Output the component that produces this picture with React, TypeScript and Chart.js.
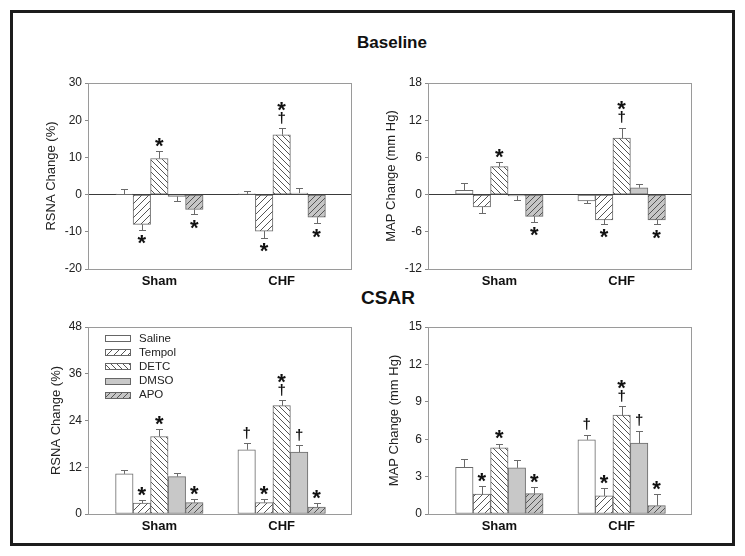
import React, { useEffect, useRef } from 'react';
import { Chart, registerables } from 'chart.js';

Chart.register(...registerables);

const FONT = '"Liberation Sans", Arial, Helvetica, sans-serif';

const groupLabels = ['Sham', 'CHF'];
const treatments = ['Saline', 'Tempol', 'DETC', 'DMSO', 'APO'];

// Baseline, RSNA change (%)
const baseRsnaSham = [0.1, -8.0, 9.7, -0.5, -4.0];
const baseRsnaShamSem = [1.5, 1.5, 2.0, 1.2, 1.3];
const baseRsnaChf = [0.2, -9.8, 16.1, 0.4, -6.1];
const baseRsnaChfSem = [0.7, 1.9, 1.8, 1.5, 1.6];
const baseRsnaShamSig = ['', '*', '*', '', '*'];
const baseRsnaChfSig = ['', '*', '*†', '', '*'];

// Baseline, MAP change (mm Hg)
const baseMapSham = [0.7, -2.0, 4.5, -0.2, -3.5];
const baseMapShamSem = [1.1, 0.9, 0.8, 0.7, 0.9];
const baseMapChf = [-1.0, -4.1, 9.1, 1.1, -4.1];
const baseMapChfSem = [0.4, 0.6, 1.7, 0.6, 0.7];
const baseMapShamSig = ['', '', '*', '', '*'];
const baseMapChfSig = ['', '*', '*†', '', '*'];

// CSAR, RSNA change (%)
const csarRsnaSham = [10.3, 2.8, 19.9, 9.6, 2.9];
const csarRsnaShamSem = [0.9, 0.8, 1.9, 0.8, 0.9];
const csarRsnaChf = [16.5, 2.9, 27.8, 15.9, 1.8];
const csarRsnaChfSem = [1.6, 1.0, 1.4, 1.7, 1.0];
const csarRsnaShamSig = ['', '*', '*', '', '*'];
const csarRsnaChfSig = ['†', '*', '*†', '†', '*'];

// CSAR, MAP change (mm Hg)
const csarMapSham = [3.75, 1.6, 5.3, 3.7, 1.63];
const csarMapShamSem = [0.65, 0.65, 0.35, 0.67, 0.54];
const csarMapChf = [5.95, 1.45, 7.93, 5.68, 0.67];
const csarMapChfSem = [0.4, 0.6, 0.7, 1.0, 0.93];
const csarMapShamSig = ['', '*', '*', '', '*'];
const csarMapChfSig = ['†', '*', '*†', '†', '*'];

const X_MIN = -0.575;
const X_MAX = 1.567;

type PanelCfg = {
  sham: number[]; shamSem: number[]; chf: number[]; chfSem: number[];
  shamSig: string[]; chfSig: string[];
  yMin: number; yMax: number; step: number; yTitle: string;
  zeroLine: boolean; legend: boolean;
  area: { left: number; top: number; right: number; bottom: number };
  titlePad: number;
};

const panels: PanelCfg[] = [
  {
    sham: baseRsnaSham, shamSem: baseRsnaShamSem, chf: baseRsnaChf, chfSem: baseRsnaChfSem,
    shamSig: baseRsnaShamSig, chfSig: baseRsnaChfSig,
    yMin: -20, yMax: 30, step: 10, yTitle: 'RSNA Change (%)', zeroLine: true, legend: false,
    area: { left: 89, top: 83, right: 351, bottom: 269 }, titlePad: 30,
  },
  {
    sham: baseMapSham, shamSem: baseMapShamSem, chf: baseMapChf, chfSem: baseMapChfSem,
    shamSig: baseMapShamSig, chfSig: baseMapChfSig,
    yMin: -12, yMax: 18, step: 6, yTitle: 'MAP Change (mm Hg)', zeroLine: true, legend: false,
    area: { left: 429, top: 83, right: 691, bottom: 269 }, titlePad: 30,
  },
  {
    sham: csarRsnaSham, shamSem: csarRsnaShamSem, chf: csarRsnaChf, chfSem: csarRsnaChfSem,
    shamSig: csarRsnaShamSig, chfSig: csarRsnaChfSig,
    yMin: 0, yMax: 48, step: 12, yTitle: 'RSNA Change (%)', zeroLine: false, legend: true,
    area: { left: 89, top: 327, right: 351, bottom: 514 }, titlePad: 35,
  },
  {
    sham: csarMapSham, shamSem: csarMapShamSem, chf: csarMapChf, chfSem: csarMapChfSem,
    shamSig: csarMapShamSig, chfSig: csarMapChfSig,
    yMin: 0, yMax: 15, step: 3, yTitle: 'MAP Change (mm Hg)', zeroLine: false, legend: false,
    area: { left: 429, top: 327, right: 691, bottom: 514 }, titlePad: 33,
  },
];

const Y_AXIS_W = 75;
const X_AXIS_H = 30;
const PAD_TOP = 12;
const PAD_RIGHT = 12;

function makeHatch(ctx: CanvasRenderingContext2D, bg: string, dir: 'f' | 'b', size: number, line: string) {
  const c = document.createElement('canvas');
  c.width = size; c.height = size;
  const g = c.getContext('2d')!;
  g.fillStyle = bg;
  g.fillRect(0, 0, size, size);
  g.strokeStyle = line;
  g.lineWidth = 1;
  g.beginPath();
  if (dir === 'f') {
    g.moveTo(0, size); g.lineTo(size, 0);
    g.moveTo(-1, 1); g.lineTo(1, -1);
    g.moveTo(size - 1, size + 1); g.lineTo(size + 1, size - 1);
  } else {
    g.moveTo(0, 0); g.lineTo(size, size);
    g.moveTo(-1, size - 1); g.lineTo(1, size + 1);
    g.moveTo(size - 1, -1); g.lineTo(size + 1, 1);
  }
  g.stroke();
  return ctx.createPattern(c, 'repeat')!;
}

const errorBarsPlugin = {
  id: 'errorBars',
  afterDatasetsDraw(chart: any) {
    const y = chart.scales.y;
    const ctx = chart.ctx as CanvasRenderingContext2D;
    ctx.save();
    ctx.strokeStyle = '#6a6a6a';
    ctx.lineWidth = 1;
    chart.data.datasets.forEach((ds: any, i: number) => {
      const meta = chart.getDatasetMeta(i);
      meta.data.forEach((bar: any, j: number) => {
        const v = ds.data[j].y;
        const e = ds.sem[j];
        const tip = Math.round(y.getPixelForValue(v < 0 ? v - e : v + e)) + 0.5;
        const x = Math.round(bar.x) + 0.5;
        ctx.beginPath();
        ctx.moveTo(x, bar.y);
        ctx.lineTo(x, tip);
        ctx.moveTo(x - 3.5, tip);
        ctx.lineTo(x + 3.5, tip);
        ctx.stroke();
      });
    });
    ctx.restore();
  },
};

const markersPlugin = {
  id: 'sigMarkers',
  afterDatasetsDraw(chart: any) {
    const y = chart.scales.y;
    const ctx = chart.ctx as CanvasRenderingContext2D;
    ctx.save();
    ctx.fillStyle = '#111';
    ctx.textAlign = 'center';
    ctx.textBaseline = 'alphabetic';
    const star = (x: number, cy: number) => {
      ctx.font = `bold 22px ${FONT}`;
      ctx.fillText('*', x, cy + 22 * 0.56);
    };
    const dagger = (x: number, cy: number) => {
      ctx.font = `bold 15px ${FONT}`;
      ctx.fillText('†', x, cy + 15 * 0.3);
    };
    chart.data.datasets.forEach((ds: any, i: number) => {
      const meta = chart.getDatasetMeta(i);
      meta.data.forEach((bar: any, j: number) => {
        const s: string = ds.sig[j];
        if (!s) return;
        const v = ds.data[j].y;
        const e = ds.sem[j];
        const x = bar.x;
        if (v < 0) {
          const tip = y.getPixelForValue(v - e);
          if (s.includes('*')) star(x, tip + 8);
        } else {
          const tip = y.getPixelForValue(v + e);
          let cy = tip - 10.5;
          if (s.includes('†')) {
            const dy = tip - 10;
            dagger(x, dy);
            cy = dy - 13.5;
          }
          if (s.includes('*')) star(x, cy);
        }
      });
    });
    ctx.restore();
  },
};

const frameLegendPlugin = {
  id: 'frameLegend',
  afterDraw(chart: any, _args: any, opts: any) {
    const ctx = chart.ctx as CanvasRenderingContext2D;
    const a = chart.chartArea;
    ctx.save();
    ctx.strokeStyle = '#9a9a9a';
    ctx.lineWidth = 1;
    ctx.strokeRect(a.left - 0.5, a.top + 0.5, a.right - a.left + 1, a.bottom - a.top);
    if (opts && opts.show) {
      chart.data.datasets.forEach((ds: any, i: number) => {
        const cy = a.top + 11 + i * 14.2;
        const bx = a.left + 16;
        ctx.fillStyle = ds.backgroundColor;
        ctx.fillRect(bx, Math.round(cy - 3), 25, 6);
        ctx.strokeStyle = '#666';
        ctx.strokeRect(bx + 0.5, Math.round(cy - 3) + 0.5, 25, 6);
        ctx.fillStyle = '#222';
        ctx.font = `11.5px ${FONT}`;
        ctx.textAlign = 'left';
        ctx.textBaseline = 'middle';
        ctx.fillText(ds.label, a.left + 50, cy + 0.5);
      });
    }
    ctx.restore();
  },
};

function Panel({ cfg }: { cfg: PanelCfg }) {
  const ref = useRef<HTMLCanvasElement>(null);
  const w = cfg.area.right - cfg.area.left + Y_AXIS_W + PAD_RIGHT;
  const h = cfg.area.bottom - cfg.area.top + PAD_TOP + X_AXIS_H;
  const left = cfg.area.left - Y_AXIS_W;
  const top = cfg.area.top - PAD_TOP;

  useEffect(() => {
    const canvas = ref.current!;
    const ctx = canvas.getContext('2d')!;
    const fills: any[] = [
      '#ffffff',
      makeHatch(ctx, '#ffffff', 'f', 7, '#555'),
      makeHatch(ctx, '#ffffff', 'b', 6, '#555'),
      '#c8c8c8',
      makeHatch(ctx, '#c6c6c6', 'f', 6, '#555'),
    ];
    const datasets = treatments.map((t, i) => ({
      label: t,
      data: [
        { x: 0, y: cfg.sham[i] },
        { x: 1, y: cfg.chf[i] },
      ],
      sem: [cfg.shamSem[i], cfg.chfSem[i]],
      sig: [cfg.shamSig[i], cfg.chfSig[i]],
      backgroundColor: fills[i],
      borderColor: '#6a6a6a',
      borderWidth: 1,
      borderSkipped: false,
      barThickness: 17.5,
    }));
    const chart = new Chart(canvas, {
      type: 'bar',
      data: { datasets } as any,
      plugins: [errorBarsPlugin, markersPlugin, frameLegendPlugin],
      options: {
        responsive: false,
        maintainAspectRatio: false,
        animation: false,
        events: [],
        layout: { padding: { left: 0, top: PAD_TOP, right: PAD_RIGHT, bottom: 0 } },
        plugins: {
          legend: { display: false },
          tooltip: { enabled: false },
          frameLegend: { show: cfg.legend },
        } as any,
        scales: {
          x: {
            type: 'linear',
            min: X_MIN,
            max: X_MAX,
            offset: false,
            grid: { display: false, drawTicks: false },
            border: { display: false },
            afterBuildTicks: (s: any) => {
              s.ticks = groupLabels.map((_, i) => ({ value: i }));
            },
            afterFit: (s: any) => {
              s.height = X_AXIS_H;
            },
            ticks: {
              autoSkip: false,
              maxRotation: 0,
              padding: 5,
              color: '#111',
              font: { family: FONT, size: 13, weight: 'bold' },
              callback: (v: any) => (v === 0 ? groupLabels[0] : v === 1 ? groupLabels[1] : ''),
            },
          },
          y: {
            min: cfg.yMin,
            max: cfg.yMax,
            afterFit: (s: any) => {
              s.width = Y_AXIS_W;
            },
            ticks: {
              stepSize: cfg.step,
              padding: 3,
              color: '#222',
              font: { family: FONT, size: 12 },
            },
            grid: {
              color: (c: any) => (cfg.zeroLine && c.tick && c.tick.value === 0 ? '#3a3a3a' : 'rgba(0,0,0,0)'),
              tickColor: '#8a8a8a',
              tickLength: 4,
            },
            border: { display: false },
            title: {
              display: true,
              text: cfg.yTitle,
              color: '#222',
              font: { family: FONT, size: 13 },
              padding: { top: cfg.titlePad, bottom: 0 },
            },
          },
        },
      } as any,
    });
    return () => chart.destroy();
  }, [cfg]);

  return (
    <canvas
      ref={ref}
      width={w}
      height={h}
      style={{ position: 'absolute', left, top, width: w, height: h }}
    />
  );
}

export default function App() {
  return (
    <div style={{ position: 'absolute', left: 0, top: 0, width: 745, height: 556, background: '#fff', fontFamily: FONT }}>
      <div
        style={{
          position: 'absolute', left: 10, top: 10, width: 725, height: 536,
          boxSizing: 'border-box', border: '3px solid #1c1c1c',
        }}
      />
      <div
        style={{
          position: 'absolute', left: 292, width: 200, top: 32, lineHeight: '21px',
          textAlign: 'center', fontWeight: 'bold', fontSize: 17, color: '#111',
        }}
      >
        Baseline
      </div>
      <div
        style={{
          position: 'absolute', left: 288, width: 200, top: 286, lineHeight: '24px',
          textAlign: 'center', fontWeight: 'bold', fontSize: 19, color: '#111',
        }}
      >
        CSAR
      </div>
      {panels.map((p, i) => (
        <Panel key={i} cfg={p} />
      ))}
    </div>
  );
}
